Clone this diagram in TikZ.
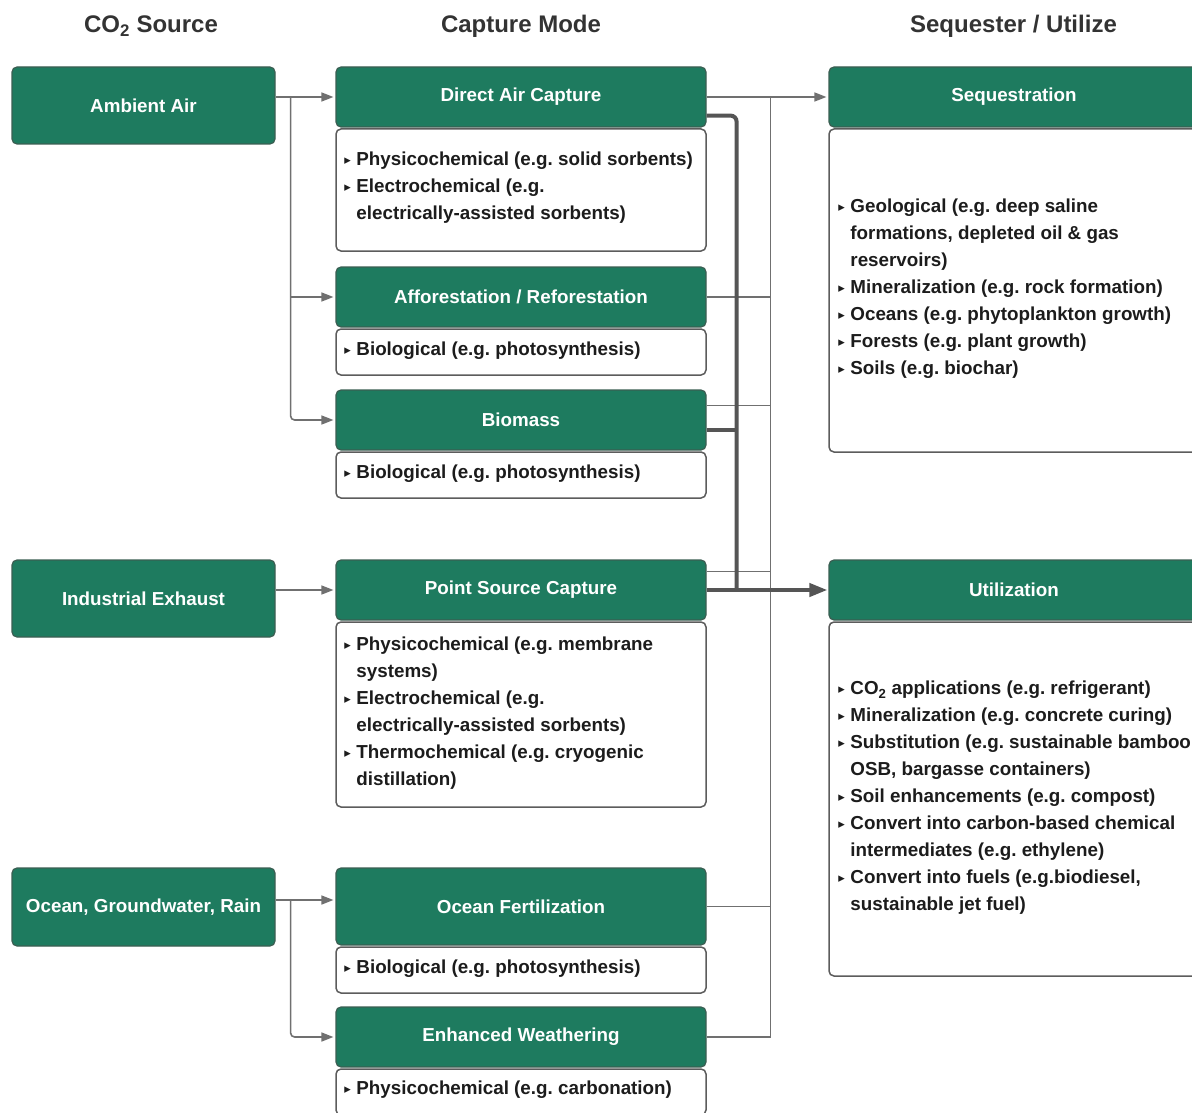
\documentclass[tikz,border=0pt]{standalone}
\usepackage{fontspec}
\setmainfont{Liberation Sans}
\newfontfamily\dejavu{DejaVu Sans}
\usetikzlibrary{arrows.meta,calc}
\definecolor{hdgreen}{HTML}{1E7B5F}
\definecolor{hdborder}{HTML}{3B5E52}
\definecolor{boxborder}{HTML}{5C5C5C}
\definecolor{linegray}{HTML}{707070}
\definecolor{thickgray}{HTML}{555555}
\definecolor{titlegray}{HTML}{333333}
\definecolor{txt}{HTML}{1C1C1C}
\newcommand\bl{\makebox[12pt][l]{\raisebox{1pt}{\dejavu\fontsize{13}{13}\selectfont ▸}}}
\newcommand\ind{\hspace*{12pt}}
\frenchspacing
\begin{document}
\begin{tikzpicture}[x=1pt,y=-1pt,
 greenbox/.style={draw=hdborder, line width=1.2pt, fill=hdgreen, rounded corners=5pt, inner sep=0pt, text=white, font=\fontsize{18.8}{22}\selectfont\bfseries\frenchspacing},
 bodybox/.style={draw=boxborder, line width=1.5pt, fill=white, rounded corners=5pt, inner sep=0pt, minimum width=370pt},
 listtext/.style={anchor=west, align=left, inner sep=0pt, text=txt, font=\fontsize{18.8}{27}\selectfont\bfseries\frenchspacing},
 coltitle/.style={anchor=base, text=titlegray, font=\fontsize{24}{28}\selectfont\bfseries},
 thinline/.style={draw=linegray, line width=1.6pt},
 thickline/.style={draw=thickgray, line width=4pt},
 thinarrow/.style={thinline, -{Triangle[length=12pt,width=9pt]}, shorten >=2pt},
 thickarrow/.style={thickline, -{Triangle[length=18pt,width=13pt]}, shorten >=1pt},
]
\useasboundingbox (0,0) rectangle (1192,1113);

% column titles
\node[coltitle] (t1) at (151,33) {CO\textsubscript{2} Source};
\node[coltitle] (t2) at (521,33) {Capture Mode};
\node[coltitle] (t3) at (1013.5,33) {Sequester / Utilize};

% sources
\node[greenbox, minimum width=263pt, minimum height=77pt] (amb) at (143.5,105.5) {Ambient Air};
\node[greenbox, minimum width=263pt, minimum height=77pt] (ind) at (143.5,598.5) {Industrial Exhaust};
\node[greenbox, minimum width=263pt, minimum height=78pt] (ocn) at (143.5,907) {Ocean, Groundwater, Rain};

% capture modes
\node[greenbox, minimum width=370pt, minimum height=60pt] (dac) at (521,97) {Direct Air Capture};
\node[bodybox, minimum height=122pt] (dacb) at (521,190) {};
\node[listtext] (dact) at ($(dacb.west)+(9,-2)$) {\bl Physicochemical (e.g. solid sorbents)\\
\bl Electrochemical (e.g.\\
\ind electrically-assisted sorbents)};

\node[greenbox, minimum width=370pt, minimum height=60pt] (aff) at (521,297) {Afforestation / Reforestation};
\node[bodybox, minimum height=46pt] (affb) at (521,352) {};
\node[listtext] (afft) at ($(affb.west)+(9,-1)$) {\bl Biological (e.g. photosynthesis)};

\node[greenbox, minimum width=370pt, minimum height=60pt] (bio) at (521,420) {Biomass};
\node[bodybox, minimum height=46pt] (biob) at (521,475) {};
\node[listtext] (biot) at ($(biob.west)+(9,-1)$) {\bl Biological (e.g. photosynthesis)};

\node[greenbox, minimum width=370pt, minimum height=60pt] (psc) at (521,590) {Point Source Capture};
\node[bodybox, minimum height=185pt] (pscb) at (521,714.5) {};
\node[listtext] (psct) at ($(pscb.west)+(9,-1)$) {\bl Physicochemical (e.g. membrane\\
\ind systems)\\
\bl Electrochemical (e.g.\\
\ind electrically-assisted sorbents)\\
\bl Thermochemical (e.g. cryogenic\\
\ind distillation)};

\node[greenbox, minimum width=370pt, minimum height=77pt] (ofe) at (521,906.5) {Ocean Fertilization};
\node[bodybox, minimum height=46pt] (ofeb) at (521,970) {};
\node[listtext] (ofet) at ($(ofeb.west)+(9,-1)$) {\bl Biological (e.g. photosynthesis)};

\node[greenbox, minimum width=370pt, minimum height=60pt] (ewe) at (521,1037) {Enhanced Weathering};
\node[bodybox, minimum height=46pt] (eweb) at (521,1092) {};
\node[listtext] (ewet) at ($(eweb.west)+(9,-2)$) {\bl Physicochemical (e.g. carbonation)};

% sequester / utilize
\node[greenbox, minimum width=370pt, minimum height=60pt] (seq) at (1014,97) {Sequestration};
\node[bodybox, minimum height=323pt] (seqb) at (1014,290.5) {};
\node[listtext] (seqt) at ($(seqb.west)+(10,-2)$) {\bl Geological (e.g. deep saline\\
\ind formations, depleted oil \& gas\\
\ind reservoirs)\\
\bl Mineralization (e.g. rock formation)\\
\bl Oceans (e.g. phytoplankton growth)\\
\bl Forests (e.g. plant growth)\\
\bl Soils (e.g. biochar)};

\node[greenbox, minimum width=370pt, minimum height=60pt] (util) at (1014,590) {Utilization};
\node[bodybox, minimum height=354pt] (utilb) at (1014,799) {};
\node[listtext] (utilt) at ($(utilb.west)+(10,-1)$) {\bl CO\textsubscript{2} applications (e.g. refrigerant)\\
\bl Mineralization (e.g. concrete curing)\\
\bl Substitution (e.g. sustainable bamboo\\
\ind OSB, bargasse containers)\\
\bl Soil enhancements (e.g. compost)\\
\bl Convert into carbon-based chemical\\
\ind intermediates (e.g. ethylene)\\
\bl Convert into fuels (e.g.biodiesel,\\
\ind sustainable jet fuel)};

% left connectors
\coordinate (jA) at ($(amb.east |- dac.west)+(15,0)$);
\draw[thinarrow] (amb.east |- dac.west) -- (dac.west);
\draw[thinarrow, rounded corners=4pt] (jA) -- (jA |- bio.west) -- (bio.west);
\draw[thinarrow] (jA |- aff.west) -- (aff.west);
\draw[thinarrow] (ind.east |- psc.west) -- (psc.west);
\coordinate (jO) at ($(ocn.east)+(15,-7)$);
\draw[thinarrow] (ocn.east |- jO) -- (ofe.west |- jO);
\draw[thinarrow, rounded corners=4pt] (jO) -- (jO |- ewe.west) -- (ewe.west);

% right connectors (to sequestration)
\draw[thinarrow] (dac.east) -- (seq.west);
\coordinate (jS) at ($(dac.east)+(64,0)$);
\draw[thinline] (jS) -- (jS |- ewe.east) -- (ewe.east);
\draw[thinline] (aff.east) -- (jS |- aff.east);
\coordinate (bioS) at ($(bio.north east)+(0,16)$);
\draw[thinline] (bioS) -- (jS |- bioS);
\coordinate (pscS) at ($(psc.north east)+(0,12)$);
\draw[thinline] (pscS) -- (jS |- pscS);
\draw[thinline] (ofe.east) -- (jS |- ofe.east);

% thick connectors (to utilization)
\coordinate (jU) at ($(psc.east)+(30,0)$);
\coordinate (dacU) at ($(dac.south east)+(0,-12)$);
\coordinate (bioU) at ($(bio.east)+(0,10)$);
\draw[thickline, rounded corners=6pt] (dacU) -| (jU);
\draw[thickline] (bioU) -- (jU |- bioU);
\draw[thickarrow] (psc.east) -- (util.west);
\end{tikzpicture}
\end{document}
